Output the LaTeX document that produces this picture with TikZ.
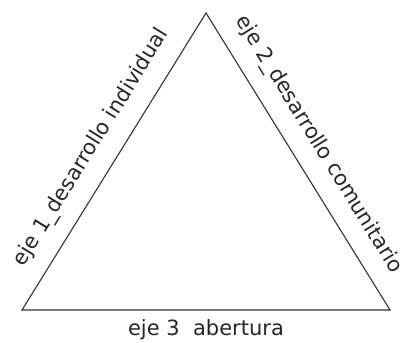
\documentclass[tikz,border=0pt]{standalone}
\usepackage{fontspec}
\setmainfont{DejaVu Sans}
\tikzset{
  eje/.style={font=\fontsize{21}{25}\selectfont, text=black!85},
  lado/.style={draw=black!80, line width=1.1pt, line join=miter}
}
\begin{document}
\begin{tikzpicture}[x=1pt,y=1pt]
\useasboundingbox (0,0) rectangle (403,342);

% vertices
\coordinate (arriba)  at (206,329);
\coordinate (izq)     at (22,32);
\coordinate (der)     at (390,32);

% triangle with axis labels
\draw[lado] (izq) -- node[eje, sloped, above=12pt] (eje1) {eje 1\_desarrollo individual} (arriba)
            -- node[eje, sloped, above=12pt, pos=0.49] (eje2) {eje 2\_desarrollo comunitario} (der)
            -- node[eje, below=6pt] (eje3) {eje 3\ \ abertura} cycle;
\end{tikzpicture}
\end{document}
